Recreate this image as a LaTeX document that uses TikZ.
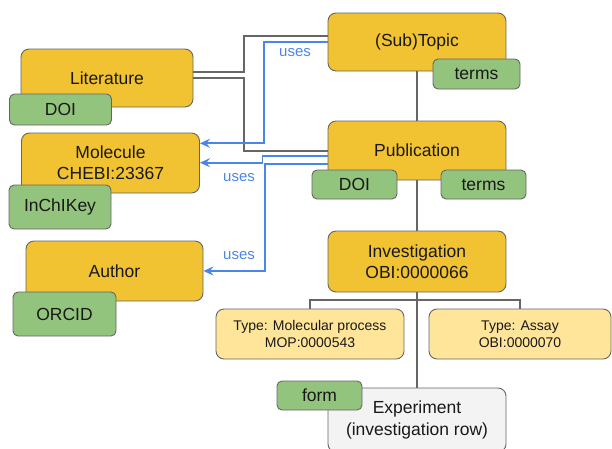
\documentclass[tikz,border=0pt]{standalone}
\usepackage{fontspec}
\setmainfont{Liberation Sans}
\usetikzlibrary{arrows.meta}
\definecolor{orangebox}{HTML}{F1C232}
\definecolor{greenbox}{HTML}{93C47D}
\definecolor{lightyel}{HTML}{FFE599}
\definecolor{lightgr}{HTML}{F3F3F3}
\definecolor{edgegr}{HTML}{666666}
\definecolor{linegr}{HTML}{666666}
\definecolor{blueline}{HTML}{4A86E8}
\tikzset{
  base/.style={draw=edgegr, line width=0.9pt, inner sep=0pt, align=center, text=black!90},
  mainbox/.style={base, fill=orangebox, rounded corners=8pt, font=\fontsize{17.5}{21}\selectfont},
  keybox/.style={base, fill=greenbox, rounded corners=5pt, font=\fontsize{17.5}{21}\selectfont},
  typebox/.style={base, fill=lightyel, rounded corners=8pt, font=\fontsize{14}{16.7}\selectfont},
  expbox/.style={base, fill=lightgr, rounded corners=8pt, font=\fontsize{17.5}{22}\selectfont},
  grayline/.style={draw=linegr, line width=2pt},
  blueline/.style={draw=blueline, line width=1.8pt, -{Stealth[length=10pt,width=9pt,inset=3.5pt]}},
  useslabel/.style={text=blueline, font=\fontsize{15}{18}\selectfont, inner sep=0pt},
}
\begin{document}
\begin{tikzpicture}[x=1pt,y=-1pt]
\useasboundingbox (0,0) rectangle (612,448);
\clip (0,0) rectangle (612,448);
% main boxes
\node[mainbox, minimum width=172pt, minimum height=58pt] (lit) at (107,78) {Literature};
\node[keybox, minimum width=102pt, minimum height=31pt] (litdoi) at (60.5,109.5) {DOI};
\node[mainbox, minimum width=178pt, minimum height=60pt] (mol) at (110.5,163) {Molecule\\CHEBI:23367};
\node[keybox, minimum width=102pt, minimum height=44pt] (inchi) at (60,207) {InChIKey};
\node[mainbox, minimum width=177pt, minimum height=60pt] (auth) at (114.5,271) {Author};
\node[keybox, minimum width=103pt, minimum height=44pt] (orcid) at (64.5,314) {ORCID};
\node[mainbox, minimum width=178pt, minimum height=58pt] (topic) at (417,42) {(Sub)Topic};
\node[keybox, minimum width=87pt, minimum height=30pt] (topicterms) at (476.5,74) {terms};
\node[mainbox, minimum width=178pt, minimum height=59pt] (pub) at (417,150.5) {Publication};
\node[keybox, minimum width=85pt, minimum height=29pt] (pubdoi) at (354.5,184.5) {DOI};
\node[keybox, minimum width=85pt, minimum height=29pt] (pubterms) at (483.5,184.5) {terms};
\node[mainbox, minimum width=178pt, minimum height=61pt] (inv) at (417,261.5) {Investigation\\OBI:0000066};
\node[typebox, minimum width=188pt, minimum height=50pt] (mp) at (310,334) {Type: Molecular process\\MOP:0000543};
\node[typebox, minimum width=182pt, minimum height=50pt] (assay) at (520,334) {Type: Assay\\OBI:0000070};
\node[expbox, minimum width=178pt, minimum height=64pt] (exp) at (417,420) {Experiment\\(investigation row)};
\node[keybox, minimum width=85pt, minimum height=29pt] (form) at (319.5,395.5) {form};
% gray tree connectors
\draw[grayline] (topic) -- (pub);
\draw[grayline] (pub) -- (inv);
\draw[grayline] (inv) -- (exp);
\coordinate (bus) at (417,300);
\draw[grayline] (mp.north) |- (bus) -| (assay.north);
\draw[grayline] ([yshift=6.3pt]lit.east) -- ++(51,0) |- ([yshift=6.3pt]topic.west);
\draw[grayline] ([yshift=-0.3pt]lit.east) -- ++(51,0) |- (pub.west);
% blue uses connectors
\draw[blueline] ([yshift=0.3pt]topic.west) -- ++(-63.7,0) |- ([yshift=19.7pt]mol.east);
\draw[blueline] ([yshift=-5.2pt]pub.west) -- ++(-65,0) |- ([yshift=0.3pt]mol.east);
\draw[blueline] ([yshift=-13.5pt]pub.west) -- ++(-62.3,0) |- (auth.east);
\node[useslabel] (u1) at (295,53) {uses};
\node[useslabel] (u2) at (239,177.5) {uses};
\node[useslabel] (u3) at (239,255.7) {uses};
\end{tikzpicture}
\end{document}
